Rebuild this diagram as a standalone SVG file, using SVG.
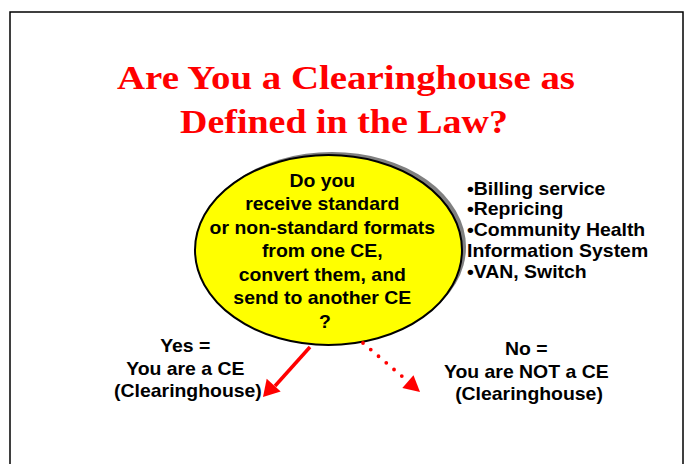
<svg xmlns="http://www.w3.org/2000/svg" width="684" height="464" viewBox="0 0 684 464">
  <defs>
    <style>
      .title { font-family: "Liberation Serif", "Times New Roman", serif; font-weight: bold; font-size: 34px; fill: #ff0000; text-anchor: middle; }
      .body { font-family: "Liberation Sans", Arial, sans-serif; font-weight: bold; font-size: 17.5px; fill: #000; }
      .mid { text-anchor: middle; }
      .arrow { fill: #ff0000; stroke: none; }
    </style>
  </defs>
  <rect width="684" height="464" fill="#fff"/>
  <rect x="10" y="12" width="673" height="470" fill="none" stroke="#000" stroke-width="1.5"/>

  <g id="title">
    <text class="title" x="346" y="89" textLength="458" lengthAdjust="spacingAndGlyphs">Are You a Clearinghouse as</text>
    <text class="title" x="344" y="133" textLength="328" lengthAdjust="spacingAndGlyphs">Defined in the Law?</text>
  </g>

  <g id="question">
    <ellipse cx="332" cy="247" rx="134" ry="95" fill="#808080"/>
    <ellipse cx="328.5" cy="250" rx="133.5" ry="95" fill="#ffff00" stroke="#000" stroke-width="2"/>
    <g transform="translate(325,0) scale(1.11,1) translate(-325,0)">
      <text class="body mid">
        <tspan x="325" y="187">Do you</tspan>
        <tspan x="325" y="210.5">receive standard</tspan>
        <tspan x="325" y="234">or non-standard formats</tspan>
        <tspan x="325" y="257.5">from one CE,</tspan>
        <tspan x="325" y="281">convert them, and</tspan>
        <tspan x="325" y="304.5">send to another CE</tspan>
        <tspan x="325" y="328">?</tspan>
      </text>
    </g>
  </g>

  <g id="examples" transform="translate(467,0) scale(1.11,1) translate(-467,0)">
    <text class="body">
      <tspan x="467" y="195">•Billing service</tspan>
      <tspan x="467" y="215.5">•Repricing</tspan>
      <tspan x="467" y="236.5">•Community Health</tspan>
      <tspan x="467" y="257.5">Information System</tspan>
      <tspan x="467" y="278.5">•VAN, Switch</tspan>
    </text>
  </g>

  <g id="yes" transform="translate(188,0) scale(1.11,1) translate(-188,0)">
    <text class="body mid">
      <tspan x="188" y="352">Yes =</tspan>
      <tspan x="188" y="375">You are a CE</tspan>
      <tspan x="188" y="397">(Clearinghouse)</tspan>
    </text>
  </g>

  <g id="no" transform="translate(529,0) scale(1.11,1) translate(-529,0)">
    <text class="body mid">
      <tspan x="529" y="355">No =</tspan>
      <tspan x="529" y="378">You are NOT a CE</tspan>
      <tspan x="529" y="400">(Clearinghouse)</tspan>
    </text>
  </g>

  <g id="connectors" fill="none" stroke="#ff0000">
    <!-- Yes: solid arrow -->
    <line x1="310" y1="347" x2="275" y2="386" stroke-width="3.5"/>
    <polygon class="arrow" points="263,397 280.7,391.6 266.7,378.8"/>
    <!-- No: dotted arrow -->
    <line x1="363" y1="343" x2="404" y2="378" stroke-width="3.8" stroke-dasharray="0 10.2" stroke-linecap="round"/>
    <polygon class="arrow" points="420,392 402.3,388 413.5,375.2"/>
  </g>
</svg>
